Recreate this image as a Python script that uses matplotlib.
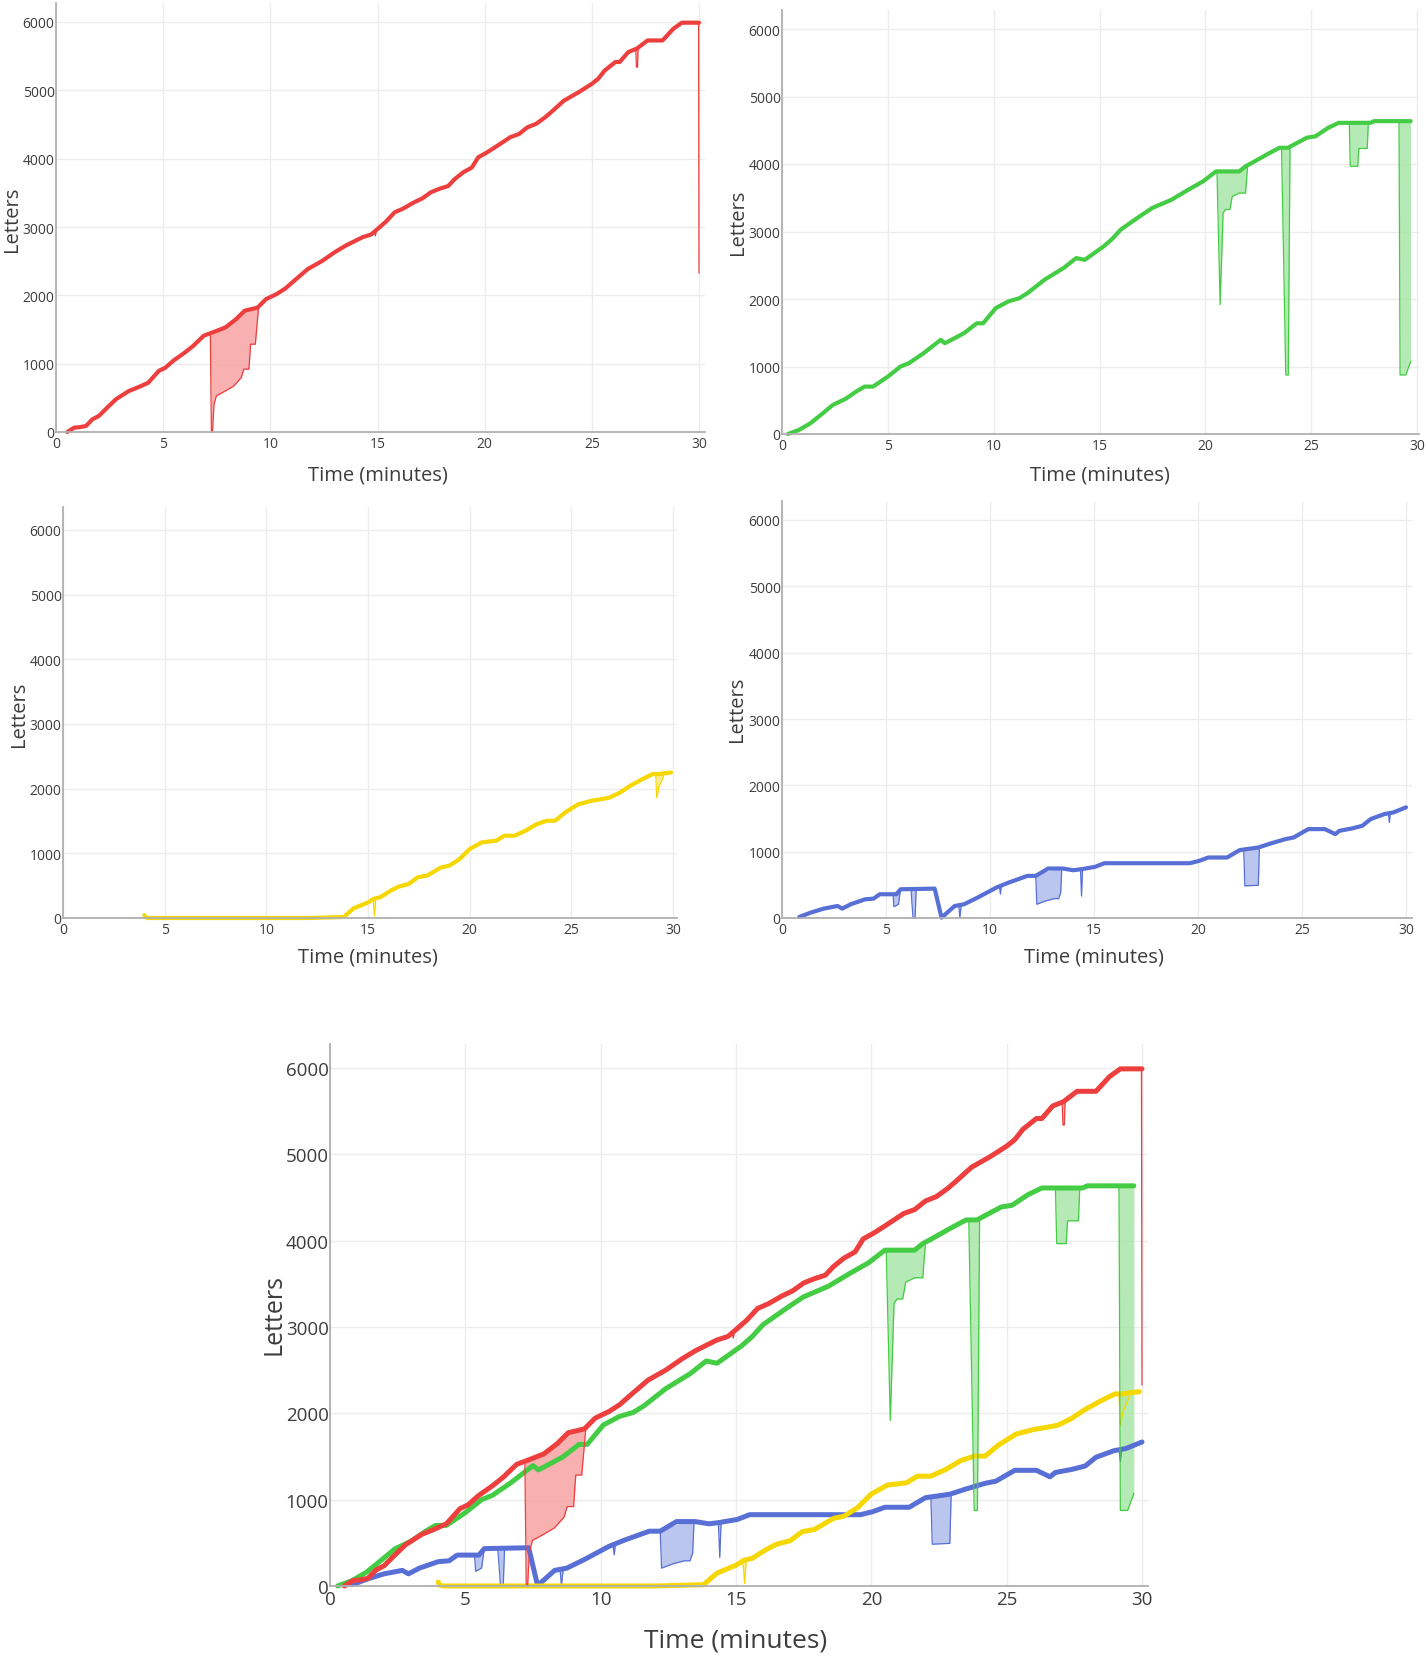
import matplotlib
matplotlib.use("Agg")
import matplotlib.pyplot as plt

# ---- data: letters typed over time (minutes) ----
# thick line = running text length, dips = (time, lower line, upper line) for deletions

red_t = [0.53, 0.85, 1.1, 1.4, 1.7, 2.0, 2.4, 2.8, 3.1, 3.4, 3.8, 4.3, 4.8, 5.1, 5.5, 6.0, 6.4,
         6.9, 7.3, 7.9, 8.4, 8.8, 9.4, 9.8, 10.3, 10.7, 11.1, 11.75, 12.4, 13.0, 13.5, 14.3,
         14.7, 15.0, 15.4, 15.8, 16.2, 16.7, 17.1, 17.5, 17.9, 18.3, 18.6, 19.0, 19.4, 19.7,
         20.1, 20.5, 21.2, 21.6, 22.0, 22.4, 22.8, 23.1, 23.7, 24.4, 25.0, 25.3, 25.6, 26.1,
         26.3, 26.7, 27.1, 27.6, 28.3, 28.8, 29.2, 29.9, 30.0]
red_y = [0, 64, 70, 88, 186, 235, 360, 480, 540, 600, 650, 720, 895, 940, 1050, 1160, 1260,
         1410, 1456, 1530, 1650, 1775, 1820, 1945, 2020, 2100, 2210, 2385, 2500, 2630, 2725, 2850,
         2890, 2970, 3080, 3215, 3270, 3360, 3420, 3510, 3560, 3600, 3700, 3800, 3870, 4020,
         4090, 4170, 4315, 4360, 4460, 4510, 4600, 4680, 4850, 4975, 5095, 5170, 5290, 5415,
         5415, 5560, 5610, 5730, 5730, 5900, 5990, 5990, 5990]
red_dips = [
    ([7.2, 7.25, 7.3, 7.37, 7.48, 7.9, 8.3, 8.65, 8.76, 9.0, 9.08, 9.3, 9.45],
     [1440, 0, 0, 400, 528, 600, 675, 800, 920, 920, 1285, 1285, 1820],
     [1440, 1445, 1450, 1455, 1470, 1530, 1620, 1720, 1760, 1790, 1800, 1815, 1820]),
    ([14.85, 14.9, 14.95], [2940, 2870, 2960], [2940, 2950, 2960]),
    ([27.05, 27.08, 27.13, 27.16], [5600, 5340, 5340, 5615], [5600, 5605, 5610, 5615]),
    ([29.98, 30.0], [5990, 2330], [5990, 5990]),
]

green_t = [0.28, 0.8, 1.34, 1.9, 2.4, 3.0, 3.5, 3.9, 4.3, 5.0, 5.6, 6.0, 6.7, 7.5, 7.7, 8.6, 9.2,
           9.5, 10.1, 10.7, 11.2, 11.6, 12.4, 13.3, 13.9, 14.3, 15.2, 15.6, 16.0, 16.9, 17.5,
           18.4, 19.2, 19.9, 20.5, 20.7, 21.6, 21.9, 22.2, 22.9, 23.5, 23.9, 24.8, 25.2, 25.8,
           26.3, 27.8, 27.98, 29.7]
green_y = [0, 60, 158, 300, 430, 520, 628, 702, 702, 850, 1000, 1050, 1200, 1395, 1345, 1494, 1640,
           1640, 1865, 1965, 2010, 2087, 2285, 2458, 2606, 2580, 2780, 2890, 3027, 3225, 3350,
           3470, 3620, 3744, 3890, 3890, 3890, 3966, 4016, 4140, 4240, 4240, 4390, 4410, 4535,
           4610, 4610, 4635, 4635]
green_dips = [
    ([20.55, 20.7, 20.84, 20.95, 21.16, 21.27, 21.6, 21.9, 22.0],
     [3890, 1915, 3275, 3325, 3325, 3520, 3570, 3570, 3985],
     [3890, 3890, 3890, 3890, 3890, 3890, 3890, 3966, 3985]),
    ([23.6, 23.8, 23.92, 24.0], [4240, 875, 875, 4250], [4240, 4240, 4240, 4250]),
    ([26.8, 26.85, 27.2, 27.25, 27.65, 27.7], [4610, 3966, 3966, 4230, 4230, 4610],
     [4610, 4610, 4610, 4610, 4610, 4610]),
    ([29.15, 29.2, 29.47, 29.7], [4635, 875, 875, 1073], [4635, 4635, 4635, 4635]),
]

yellow_t = [4.0, 4.05, 4.2, 12.0, 13.8, 14.3, 15.0, 15.3, 15.6, 16.1, 16.5, 17.0, 17.45, 17.9,
            18.6, 19.0, 19.5, 20.0, 20.6, 21.3, 21.7, 22.2, 22.75, 23.3, 23.8, 24.2, 24.7,
            25.35, 26.0, 26.5, 26.9, 27.4, 27.9, 28.5, 29.0, 29.3, 29.6, 29.9]
yellow_y = [45, 10, 0, 0, 15, 150, 240, 300, 320, 420, 484, 525, 630, 655,
            783, 810, 910, 1066, 1170, 1195, 1272, 1272, 1350, 1452, 1504, 1504, 1633,
            1760, 1813, 1839, 1864, 1941, 2045, 2148, 2225, 2225, 2240, 2250]
yellow_dips = [
    ([15.25, 15.32, 15.38], [300, 30, 310], [300, 305, 310]),
    ([29.15, 29.2, 29.3, 29.6], [2225, 1860, 2020, 2240], [2225, 2225, 2230, 2240]),
]

blue_t = [0.83, 1.37, 2.0, 2.67, 2.9, 3.3, 4.0, 4.4, 4.7, 5.5, 5.7, 7.34, 7.67, 8.3, 8.75, 9.4,
          10.3, 10.9, 11.8, 12.2, 12.8, 13.5, 14.0, 14.4, 15.05, 15.5, 19.6, 20.05, 20.5, 21.4,
          22.0, 22.9, 23.5, 24.2, 24.6, 25.3, 26.1, 26.6, 26.8, 27.4, 27.9, 28.3, 28.96, 29.4,
          30.0]
blue_y = [15, 80, 141, 181, 141, 207, 282, 292, 358, 358, 433, 443, 5, 181, 207, 307,
          458, 534, 635, 635, 746, 746, 720, 736, 771, 826, 826, 861, 912, 912,
          1023, 1063, 1124, 1189, 1214, 1340, 1340, 1265, 1315, 1350, 1390, 1491, 1567, 1592,
          1668]
blue_dips = [
    ([5.34, 5.38, 5.6, 5.7], [358, 170, 207, 433], [358, 358, 380, 433]),
    ([6.2, 6.3, 6.4, 6.45], [433, 0, 0, 433], [433, 433, 433, 433]),
    ([8.5, 8.55, 8.62], [195, 0, 200], [195, 198, 200]),
    ([10.45, 10.5, 10.55], [490, 360, 500], [490, 495, 500]),
    ([12.2, 12.25, 12.67, 13.1, 13.3, 13.4, 13.45], [635, 207, 257, 292, 292, 383, 746],
     [635, 640, 700, 746, 746, 746, 746]),
    ([14.35, 14.4, 14.45], [730, 330, 736], [730, 736, 736]),
    ([22.2, 22.25, 22.9, 22.95], [1030, 484, 494, 1063], [1030, 1035, 1063, 1063]),
    ([29.15, 29.2, 29.25], [1585, 1440, 1590], [1585, 1588, 1590]),
]

x_ticks = [0, 5, 10, 15, 20, 25, 30]
y_ticks = [0, 1000, 2000, 3000, 4000, 5000, 6000]

RED, RED_FILL = "#ee3f3f", "#f7a3a3"
GREEN, GREEN_FILL = "#44cc44", "#a8e6a8"
YELLOW, YELLOW_FILL = "#f7d700", "#fbe98a"
BLUE, BLUE_FILL = "#5870d6", "#b0bcec"

W, H = 1428, 1658
plt.rcParams['font.family'] = ['Open Sans', 'DejaVu Sans']
fig = plt.figure(figsize=(W / 100, H / 100), dpi=100)


# Build an axes from pixel positions of the (0,0) corner and the 30 / 6000 ticks
def make_axes(x0, x30, y0, y6000, top, right, tick_fs, time_fs, letters_fs, letters_xy, time_xy):
    ax = fig.add_axes([x0 / W, 1 - y0 / H, (right - x0) / W, (y0 - top) / H])
    ax.set_xlim(0, 30 * (right - x0) / (x30 - x0))
    ax.set_ylim(0, 6000 * (y0 - top) / (y0 - y6000))
    ax.set_xticks(x_ticks)
    ax.set_yticks(y_ticks)
    ax.tick_params(length=0, labelsize=tick_fs, colors="#3c3c3c")
    ax.tick_params(axis="y", pad=1)
    ax.tick_params(axis="x", pad=3)
    ax.grid(True, color="#ececec", lw=1.0)
    ax.set_axisbelow(True)
    for s in ["top", "right"]:
        ax.spines[s].set_visible(False)
    for s in ["left", "bottom"]:
        ax.spines[s].set_color("#b0b0b0")
        ax.spines[s].set_linewidth(1.3)
    fig.text(letters_xy[0] / W, 1 - letters_xy[1] / H, "Letters", rotation=90,
             ha="center", va="center", fontsize=letters_fs, color="#3c3c3c")
    fig.text(time_xy[0] / W, 1 - time_xy[1] / H, "Time (minutes)",
             ha="center", va="center", fontsize=time_fs, color="#3c3c3c")
    return ax


# Draw one writer: deletion dips as filled areas, then the thick length line
def draw_series(ax, t, y, dips, color, fill, lw_thick):
    for dx, low, top in dips:
        ax.fill_between(dx, low, top, color=fill, alpha=0.85, lw=0, clip_on=False)
        ax.plot(dx, low, color=color, lw=0.9, clip_on=False)
    ax.plot(t, y, color=color, lw=lw_thick, solid_joinstyle="round",
            solid_capstyle="round", clip_on=False)


ax1 = make_axes(56, 699, 433, 23, 4, 705, 10, 14.5, 14.5, (12, 219), (378, 475))
draw_series(ax1, red_t, red_y, red_dips, RED, RED_FILL, 3.0)

ax2 = make_axes(782, 1417, 435, 30, 11, 1419, 10, 14.5, 14.5, (738, 222), (1100, 475))
draw_series(ax2, green_t, green_y, green_dips, GREEN, GREEN_FILL, 3.0)

ax3 = make_axes(63, 673, 919, 531, 508, 677, 10, 14.5, 14.5, (19, 714), (368, 958))
draw_series(ax3, yellow_t, yellow_y, yellow_dips, YELLOW, YELLOW_FILL, 3.0)

ax4 = make_axes(782, 1406, 919, 521, 502, 1412, 10, 14.5, 14.5, (737, 709), (1094, 958))
draw_series(ax4, blue_t, blue_y, blue_dips, BLUE, BLUE_FILL, 3.0)

ax5 = make_axes(330, 1142, 1587, 1069, 1045, 1148, 13.5, 19, 18, (274, 1315), (736, 1641))
draw_series(ax5, blue_t, blue_y, blue_dips, BLUE, BLUE_FILL, 3.6)
draw_series(ax5, yellow_t, yellow_y, yellow_dips, YELLOW, YELLOW_FILL, 3.6)
draw_series(ax5, green_t, green_y, green_dips, GREEN, GREEN_FILL, 3.6)
draw_series(ax5, red_t, red_y, red_dips, RED, RED_FILL, 3.6)

fig.savefig("out.png", dpi=100, facecolor="white")
